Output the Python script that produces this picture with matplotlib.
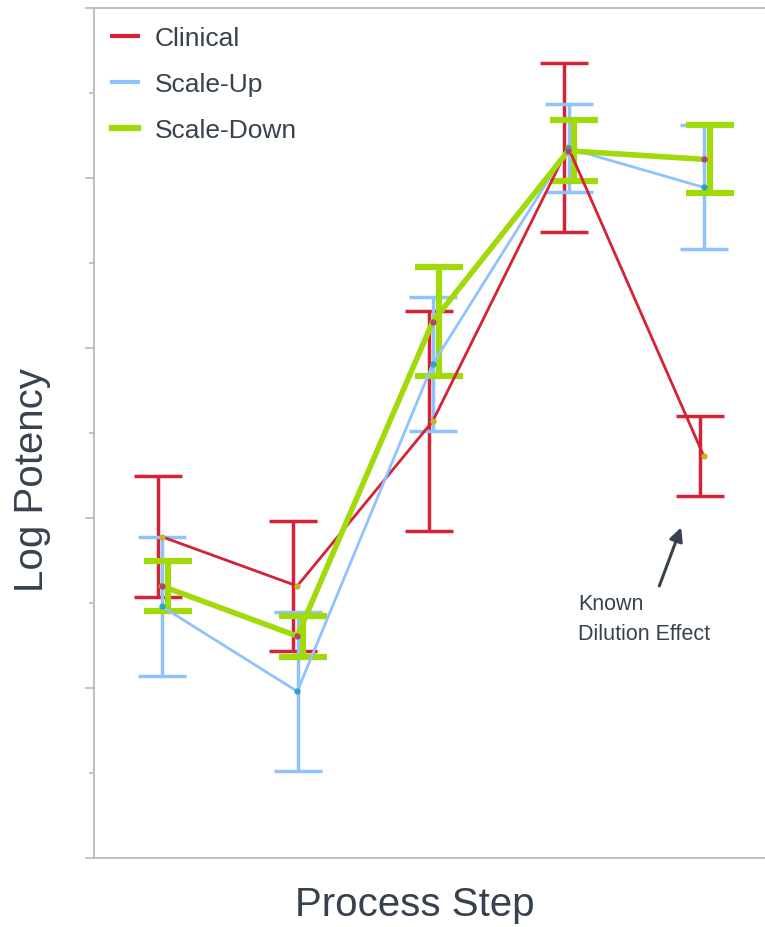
import matplotlib.pyplot as plt
from matplotlib.ticker import MultipleLocator

plt.rcParams['font.family'] = ['Liberation Sans', 'DejaVu Sans']

steps = [1, 2, 3, 4, 5]

clinical_mean = [3.78, 3.20, 5.14, 8.36, 4.73]
clinical_err = [0.71, 0.77, 1.29, 0.99, 0.47]

scaleup_mean = [2.96, 1.96, 5.81, 8.35, 7.89]
scaleup_err = [0.82, 0.94, 0.79, 0.52, 0.73]

scaledown_mean = [3.20, 2.61, 6.31, 8.32, 8.22]
scaledown_err = [0.29, 0.24, 0.64, 0.36, 0.40]

text_color = '#37424e'
spine_color = '#b4b4b4'

series = [
    # label, means, errors, colour, marker colour, line width, errbar width, errbar offset
    ('Clinical', clinical_mean, clinical_err, '#d42236', '#c8b22a', 2.0, 2.5, -0.03),
    ('Scale-Up', scaleup_mean, scaleup_err, '#8ec3ff', '#2fa3bf', 2.0, 2.5, 0.005),
    ('Scale-Down', scaledown_mean, scaledown_err, '#a2d90a', '#b0407e', 4.0, 4.5, 0.045),
]

fig = plt.figure(figsize=(7.65, 9.28), dpi=100)
ax = fig.add_axes([94 / 765, 69 / 928, 677.5 / 765, 850 / 928])

for label, mean, err, color, mcolor, lw, elw, off in series:
    xe = [s + off for s in steps]
    ax.errorbar(xe, mean, yerr=err, fmt='none', ecolor=color,
                elinewidth=elw, capsize=17, capthick=elw, zorder=2)
for label, mean, err, color, mcolor, lw, elw, off in series:
    ax.plot(steps, mean, color=color, lw=lw, label=label, zorder=3)
    ax.plot(steps, mean, 'o', color=mcolor, ms=3.5, zorder=4)

ax.set_xlim(0.5, 5.5)
ax.set_ylim(0, 10)
ax.yaxis.set_major_locator(MultipleLocator(2))
ax.yaxis.set_minor_locator(MultipleLocator(1))
ax.set_xticks([])
ax.set_yticklabels([])
ax.tick_params(axis='y', which='major', length=6.5, width=1.1, color=spine_color)
ax.tick_params(axis='y', which='minor', length=3.6, width=1.1, color=spine_color)
for side in ['left', 'bottom', 'top']:
    ax.spines[side].set_color(spine_color)
    ax.spines[side].set_linewidth(1.2)
ax.spines['right'].set_visible(False)

leg = ax.legend(loc='upper left', bbox_to_anchor=(0.0, 1.0), frameon=False,
                fontsize=19, handlelength=0.95, handletextpad=0.65,
                labelspacing=0.83, borderaxespad=0.3)
for txt in leg.get_texts():
    txt.set_color(text_color)
for line, lw in zip(leg.get_lines(), [3, 3, 4.5]):
    line.set_linewidth(lw)

ax.annotate('', xy=(4.84, 3.92), xytext=(4.665, 3.17),
            arrowprops=dict(arrowstyle='-|>,head_length=0.8,head_width=0.4',
                            color=text_color, lw=2.2))
ax.text(4.075, 2.82, 'Known\nDilution Effect', fontsize=15.5, color=text_color,
        ha='left', va='center', linespacing=1.55)

fig.text(32 / 765, 1 - 480 / 928, 'Log Potency', rotation=90, fontsize=29,
         color=text_color, ha='center', va='center')
fig.text(415 / 765, 1 - 905 / 928, 'Process Step', fontsize=29,
         color=text_color, ha='center', va='center')

fig.savefig('out.png', dpi=100)
